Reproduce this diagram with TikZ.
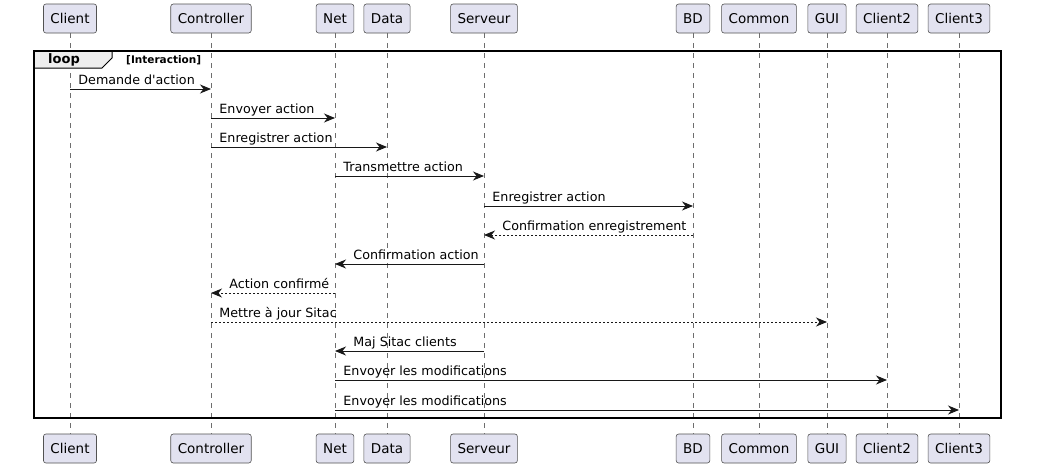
\documentclass[tikz,border=0pt]{standalone}
\usepackage{fontspec}
\setmainfont{DejaVu Sans}[Ligatures=TeXOff]
\usetikzlibrary{arrows.meta}
\definecolor{partfill}{HTML}{E2E2F0}
\definecolor{partline}{HTML}{181818}
\definecolor{lifecol}{HTML}{555555}
\definecolor{tabfill}{HTML}{EEEEEE}
\begin{document}
\begin{tikzpicture}[x=1pt,y=-1pt,
  part/.style={draw=partline!75, fill=partfill, rounded corners=2.5pt, line width=0.6pt,
    minimum height=29pt, inner xsep=7pt, inner ysep=0pt, font=\fontsize{13.5}{16}\selectfont},
  life/.style={draw=lifecol!85, line width=0.6pt, dash pattern=on 5pt off 5pt},
  msg/.style={draw=partline, line width=0.9pt, -{Stealth[length=11pt,width=9pt,inset=3.5pt]}},
  ret/.style={msg, dash pattern=on 2pt off 2pt},
  lbl/.style={font=\fontsize{12.7}{15}\selectfont, anchor=base west, inner sep=0pt, text=black},
  ltr/.style={pos=0, xshift=8pt, yshift=5pt},
  rtl/.style={pos=1, xshift=18pt, yshift=5pt},
]
\useasboundingbox (0,0) rectangle (1049,474);
\fill[white] (0,0) rectangle (1049,474);

% participants and lifelines
\foreach \n/\x/\t in {cli/70/Client, ctl/211/Controller, net/335/Net, dat/387/Data,
  srv/484/Serveur, bd/693/BD, com/759/Common, gui/827/GUI, clb/887/Client2, clc/959/Client3}{
  \node[part] (\n-top) at (\x,18.5) {\t};
  \node[part] (\n-bot) at (\x,448.5) {\t};
  \draw[life] (\n-top) -- (\n-bot);
}

% loop frame
\draw[line width=1pt, fill=tabfill] (34,51) -- (112,51) -- (112,58) -- (102,68) -- (34,68) -- cycle;
\draw[line width=1.5pt] (34,51) rectangle (1001,418);
\node[font=\bfseries\fontsize{13}{15}\selectfont, inner sep=0pt] (looplbl) at (64,60) {loop};
\node[font=\bfseries\fontsize{10.5}{12}\selectfont, anchor=west, inner sep=0pt] (loopcond) at (126,60) {[Interaction]};

% message rows
\coordinate (r1) at (0,89);
\coordinate (r2) at (0,118);
\coordinate (r3) at (0,147);
\coordinate (r4) at (0,176);
\coordinate (r5) at (0,206);
\coordinate (r6) at (0,235);
\coordinate (r7) at (0,264);
\coordinate (r8) at (0,293);
\coordinate (r9) at (0,322);
\coordinate (r10) at (0,351);
\coordinate (r11) at (0,380);
\coordinate (r12) at (0,410);

\draw[msg] (cli-top |- r1) -- (ctl-top |- r1) node[lbl, ltr] (m1) {Demande d'action};
\draw[msg] (ctl-top |- r2) -- (net-top |- r2) node[lbl, ltr] (m2) {Envoyer action};
\draw[msg] (ctl-top |- r3) -- (dat-top |- r3) node[lbl, ltr] (m3) {Enregistrer action};
\draw[msg] (net-top |- r4) -- (srv-top |- r4) node[lbl, ltr] (m4) {Transmettre action};
\draw[msg] (srv-top |- r5) -- (bd-top |- r5) node[lbl, ltr] (m5) {Enregistrer action};
\draw[ret] (bd-top |- r6) -- (srv-top |- r6) node[lbl, rtl] (m6) {Confirmation enregistrement};
\draw[msg] (srv-top |- r7) -- (net-top |- r7) node[lbl, rtl] (m7) {Confirmation action};
\draw[ret] (net-top |- r8) -- (ctl-top |- r8) node[lbl, rtl] (m8) {Action confirmé};
\draw[ret] (ctl-top |- r9) -- (gui-top |- r9) node[lbl, ltr] (m9) {Mettre à jour Sitac};
\draw[msg] (srv-top |- r10) -- (net-top |- r10) node[lbl, rtl] (m10) {Maj Sitac clients};
\draw[msg] (net-top |- r11) -- (clb-top |- r11) node[lbl, ltr] (m11) {Envoyer les modifications};
\draw[msg] (net-top |- r12) -- (clc-top |- r12) node[lbl, ltr] (m12) {Envoyer les modifications};
\end{tikzpicture}
\end{document}
